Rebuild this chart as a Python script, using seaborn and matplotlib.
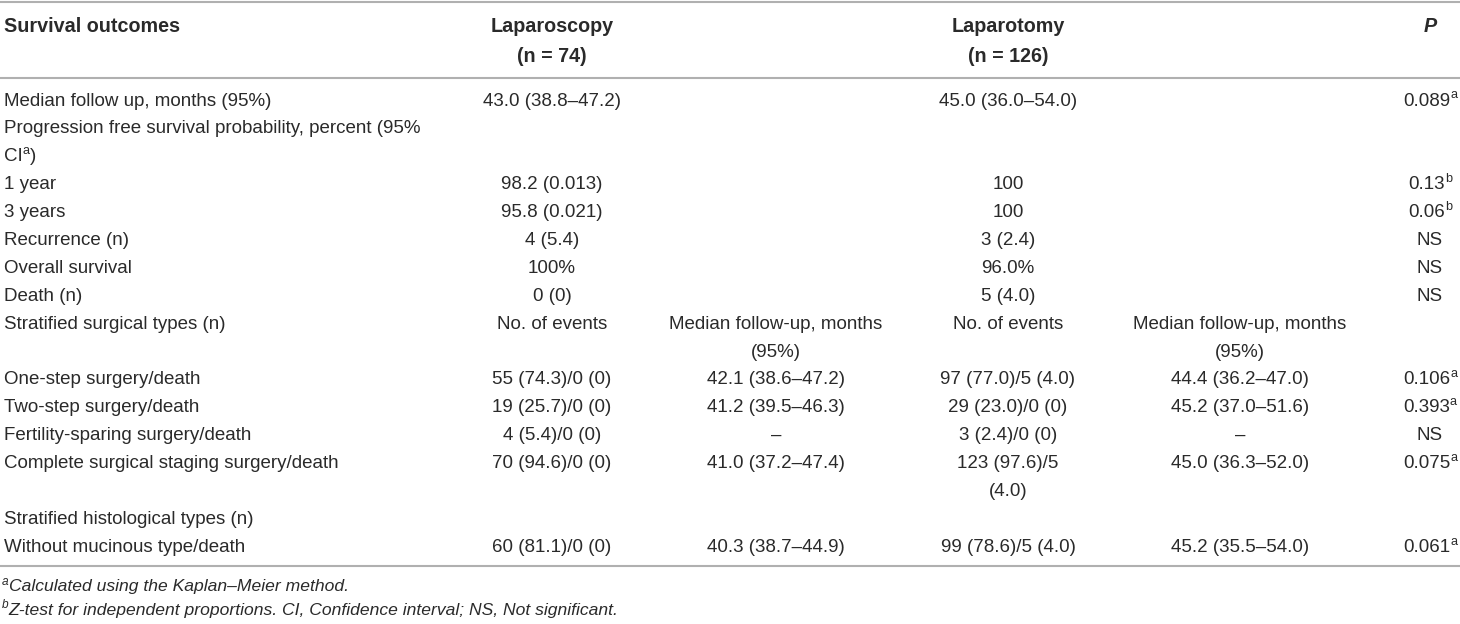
import matplotlib
matplotlib.use("Agg")
import matplotlib.pyplot as plt
import seaborn as sns

# table content
header_left = "Survival outcomes"
group_names = ["Laparoscopy", "Laparotomy"]
group_sizes = ["(n = 74)", "(n = 126)"]
p_header = "P"

row_labels = [
    "Median follow up, months (95%)",
    "Progression free survival probability, percent (95%",
    "CI^a)",
    "1 year",
    "3 years",
    "Recurrence (n)",
    "Overall survival",
    "Death (n)",
    "Stratified surgical types (n)",
    "",
    "One-step surgery/death",
    "Two-step surgery/death",
    "Fertility-sparing surgery/death",
    "Complete surgical staging surgery/death",
    "",
    "Stratified histological types (n)",
    "Without mucinous type/death",
]
lap_events = ["43.0 (38.8–47.2)", "", "", "98.2 (0.013)", "95.8 (0.021)", "4 (5.4)", "100%", "0 (0)",
              "No. of events", "", "55 (74.3)/0 (0)", "19 (25.7)/0 (0)", "4 (5.4)/0 (0)",
              "70 (94.6)/0 (0)", "", "", "60 (81.1)/0 (0)"]
lap_followup = ["", "", "", "", "", "", "", "",
                "Median follow-up, months", "(95%)", "42.1 (38.6–47.2)", "41.2 (39.5–46.3)", "–",
                "41.0 (37.2–47.4)", "", "", "40.3 (38.7–44.9)"]
lapt_events = ["45.0 (36.0–54.0)", "", "", "100", "100", "3 (2.4)", "96.0%", "5 (4.0)",
               "No. of events", "", "97 (77.0)/5 (4.0)", "29 (23.0)/0 (0)", "3 (2.4)/0 (0)",
               "123 (97.6)/5", "(4.0)", "", "99 (78.6)/5 (4.0)"]
lapt_followup = ["", "", "", "", "", "", "", "",
                 "Median follow-up, months", "(95%)", "44.4 (36.2–47.0)", "45.2 (37.0–51.6)", "–",
                 "45.0 (36.3–52.0)", "", "", "45.2 (35.5–54.0)"]
p_values = ["0.089^a", "", "", "0.13^b", "0.06^b", "NS", "NS", "NS", "", "",
            "0.106^a", "0.393^a", "NS", "0.075^a", "", "", "0.061^a"]
footnotes = ["^aCalculated using the Kaplan–Meier method.",
             "^bZ-test for independent proportions. CI, Confidence interval; NS, Not significant."]

sns.set_theme(style="white")
plt.rcParams["font.family"] = ["Liberation Sans", "DejaVu Sans"]

FS = 13.5
FS_HEAD = 14.2
FS_NOTE = 12.6
TXT = "#2a2a2a"
LINE = "#b0b0b0"

fig, ax = plt.subplots(figsize=(14.6, 6.24), dpi=100)
fig.subplots_adjust(left=0, right=1, bottom=0, top=1)
ax.set_xlim(0, 1460)
ax.set_ylim(624, 0)
ax.axis("off")
renderer = fig.canvas.get_renderer()


def parse(s):
    # '^x' marks a one-letter superscript
    parts, buf, i = [], "", 0
    while i < len(s):
        if s[i] == "^" and i + 1 < len(s):
            if buf:
                parts.append((buf, False))
                buf = ""
            parts.append((s[i + 1], True))
            i += 2
        else:
            buf += s[i]
            i += 1
    if buf:
        parts.append((buf, False))
    return parts


def put(x, y, s, ha="center", weight="normal", style="normal", size=FS):
    if not s:
        return
    items = []
    for txt, sup in parse(s):
        fs = size * 0.68 if sup else size
        t = ax.text(0, y - (size * 0.42 if sup else 0), txt, ha="left", va="center",
                    fontsize=fs, color=TXT, fontweight=weight, fontstyle=style)
        w = t.get_window_extent(renderer).width
        items.append((t, w))
    total = sum(w for _, w in items)
    if ha == "center":
        start = x - total / 2
    elif ha == "right":
        start = x - total
    else:
        start = x
    for t, w in items:
        t.set_x(start)
        start += w


X_LABEL = 4
X_COLS = [552, 776, 1008, 1240]
X_P = 1430

# header
put(X_LABEL, 27, header_left, ha="left", weight="bold", size=FS_HEAD)
for x, name, n in zip([X_COLS[0], X_COLS[2]], group_names, group_sizes):
    put(x, 27, name, weight="bold", size=FS_HEAD)
    put(x, 56, n, weight="bold", size=FS_HEAD)
put(X_P, 27, p_header, weight="bold", style="italic", size=FS_HEAD)

# body
y0, dy = 101, 27.9
for i, label in enumerate(row_labels):
    y = y0 + i * dy
    put(X_LABEL, y, label, ha="left")
    put(X_COLS[0], y, lap_events[i])
    put(X_COLS[1], y, lap_followup[i])
    put(X_COLS[2], y, lapt_events[i])
    put(X_COLS[3], y, lapt_followup[i])
    put(X_P, y, p_values[i])

# footnotes
for j, note in enumerate(footnotes):
    put(2, 587 + j * 23, note, ha="left", style="italic", size=FS_NOTE)

# rules
for yl in [2, 78, 566]:
    ax.axhline(yl, color=LINE, lw=1.5)

fig.savefig("out.png", dpi=100)
